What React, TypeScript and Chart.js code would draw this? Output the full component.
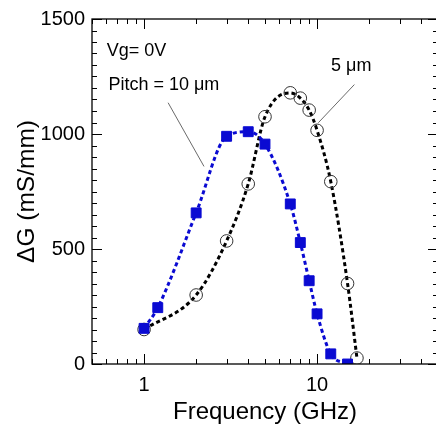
import React, { useEffect, useRef } from 'react';
import { Chart, registerables } from 'chart.js';

Chart.register(...registerables);

// ---- data ----
const freqPitch10 = [1, 1.2, 2, 3, 4, 5, 7, 8, 9, 10, 12, 15];
const gPitch10 = [155, 245, 657, 990, 1010, 956, 696, 528, 362, 218, 44, 0];
const freqPitch5 = [1, 2, 3, 4, 5, 7, 8, 9, 10, 12, 15, 17];
const gPitch5 = [150, 300, 535, 783, 1075, 1179, 1156, 1104, 1016, 793, 350, 26];

const xTickLabels = [1, 10];
const xMinorTicks = [0.5, 0.6, 0.7, 0.8, 0.9, 2, 3, 4, 5, 6, 7, 8, 9, 20, 30, 40, 50];
const yTickLabels = [0, 500, 1000, 1500];
const yMinorTicks = Array.from({ length: 31 }, (_, i) => i * 50);

const annotationTexts = ['Vg= 0V', 'Pitch = 10 \u03bcm', '5 \u03bcm'];
const annotationX = [0.609, 0.622, 12.05];
const annotationY = [1340, 1191, 1275];
// leader lines: [x1, y1, x2, y2]
const leaderPitch10 = [1.377, 1136, 2.22, 859];
const leaderPitch5 = [16.43, 1215, 10.17, 1049];

const BLUE = '#0a0ad2';
const FONT = '"Liberation Sans", Arial, Helvetica, sans-serif';

const decorPlugin = {
  id: 'decor',
  afterDatasetsDraw(chart: any) {
    const { ctx, chartArea: a, scales } = chart;
    const x = scales.x;
    const y = scales.y;
    ctx.save();
    ctx.strokeStyle = '#000';
    ctx.lineWidth = 1.3;
    ctx.strokeRect(a.left, a.top, a.right - a.left, a.bottom - a.top);
    ctx.lineWidth = 1;
    ctx.beginPath();
    const xt = (v: number, len: number) => {
      const px = Math.round(x.getPixelForValue(v)) + 0.5;
      ctx.moveTo(px, a.bottom);
      ctx.lineTo(px, a.bottom - len);
      ctx.moveTo(px, a.top);
      ctx.lineTo(px, a.top + len);
    };
    const yt = (v: number, len: number) => {
      const py = Math.round(y.getPixelForValue(v)) + 0.5;
      ctx.moveTo(a.left, py);
      ctx.lineTo(a.left + len, py);
      ctx.moveTo(a.right, py);
      ctx.lineTo(a.right - len, py);
    };
    xMinorTicks.forEach((v) => xt(v, 5));
    xTickLabels.forEach((v) => xt(v, 10));
    yMinorTicks.forEach((v) => yt(v, 5));
    yTickLabels.forEach((v) => yt(v, 10));
    ctx.stroke();

    // leader lines
    ctx.strokeStyle = '#444';
    ctx.lineWidth = 0.8;
    ctx.beginPath();
    [leaderPitch10, leaderPitch5].forEach((l) => {
      ctx.moveTo(x.getPixelForValue(l[0]), y.getPixelForValue(l[1]));
      ctx.lineTo(x.getPixelForValue(l[2]), y.getPixelForValue(l[3]));
    });
    ctx.stroke();

    // annotations
    ctx.fillStyle = '#000';
    ctx.font = `18px ${FONT}`;
    ctx.textAlign = 'left';
    ctx.textBaseline = 'alphabetic';
    annotationTexts.forEach((t, i) => {
      ctx.fillText(t, x.getPixelForValue(annotationX[i]), y.getPixelForValue(annotationY[i]));
    });
    ctx.restore();
  },
};

export default function App() {
  const ref = useRef<HTMLCanvasElement | null>(null);
  useEffect(() => {
    if (!ref.current) return;
    const chart = new Chart(ref.current, {
      type: 'line',
      data: {
        datasets: [
          {
            label: 'Pitch = 10 \u03bcm',
            data: freqPitch10.map((f, i) => ({ x: f, y: gPitch10[i] })),
            borderColor: BLUE,
            borderWidth: 3,
            borderDash: [4, 3],
            cubicInterpolationMode: 'monotone',
            pointStyle: 'rect',
            pointRadius: 7,
            pointBackgroundColor: BLUE,
            pointBorderColor: BLUE,
            pointBorderWidth: 1,
            fill: false,
          },
          {
            label: '5 \u03bcm',
            data: freqPitch5.map((f, i) => ({ x: f, y: gPitch5[i] })),
            borderColor: '#000',
            borderWidth: 3,
            borderDash: [4, 3],
            cubicInterpolationMode: 'monotone',
            pointStyle: 'circle',
            pointRadius: 6.3,
            pointBackgroundColor: 'rgba(0,0,0,0)',
            pointBorderColor: '#333',
            pointBorderWidth: 1,
            fill: false,
          },
        ],
      },
      options: {
        responsive: false,
        animation: false,
        devicePixelRatio: 1,
        layout: { padding: { top: 19, right: 10, left: 0, bottom: 0 } },
        plugins: { legend: { display: false }, tooltip: { enabled: false } },
        scales: {
          x: {
            type: 'logarithmic',
            min: 0.5,
            max: 50,
            grid: { display: false, drawTicks: false },
            border: { display: false },
            afterBuildTicks: (s: any) => {
              s.ticks = xTickLabels.map((v) => ({ value: v }));
            },
            afterFit: (s: any) => {
              s.height = 61;
            },
            ticks: {
              autoSkip: false,
              maxRotation: 0,
              color: '#000',
              padding: 9,
              font: { family: FONT, size: 20 },
              callback: (v: any) => String(v),
            },
            title: {
              display: true,
              text: 'Frequency (GHz)',
              color: '#000',
              font: { family: FONT, size: 24, lineHeight: 1 },
              padding: { top: 0, bottom: 1 },
            },
          },
          y: {
            type: 'linear',
            min: 0,
            max: 1500,
            grid: { display: false, drawTicks: false },
            border: { display: false },
            afterBuildTicks: (s: any) => {
              s.ticks = yTickLabels.map((v) => ({ value: v }));
            },
            afterFit: (s: any) => {
              s.width = 92;
            },
            ticks: {
              color: '#000',
              padding: 7,
              font: { family: FONT, size: 20 },
              callback: (v: any) => String(v),
            },
            title: {
              display: true,
              text: '\u0394G (mS/mm)',
              color: '#000',
              font: { family: FONT, size: 24.5, lineHeight: 1 },
              padding: { top: 15, bottom: 0 },
            },
          },
        },
      },
      plugins: [decorPlugin],
    } as any);
    return () => chart.destroy();
  }, []);

  return (
    <div
      style={{
        position: 'fixed',
        left: 0,
        top: 0,
        width: 436,
        height: 425,
        overflow: 'hidden',
        background: '#fff',
      }}
    >
      <canvas ref={ref} width={448} height={425} style={{ width: 448, height: 425, display: 'block' }} />
    </div>
  );
}
